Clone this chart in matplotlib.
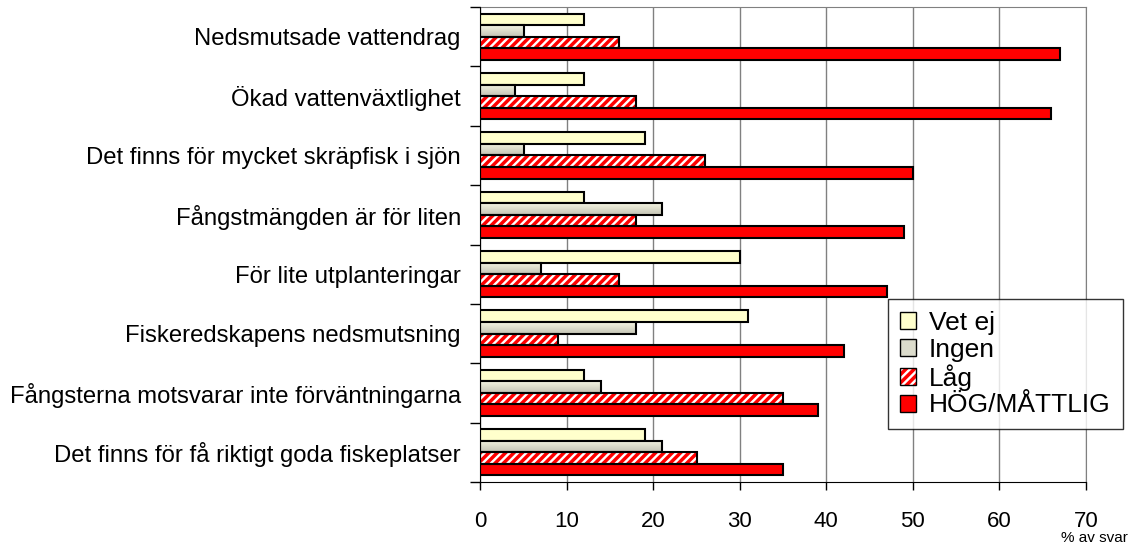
import matplotlib.pyplot as plt
import numpy as np
from matplotlib.patches import Rectangle
from matplotlib.legend_handler import HandlerTuple
from matplotlib.colors import LinearSegmentedColormap

plt.rcParams['font.family'] = ['Liberation Sans', 'DejaVu Sans']
plt.rcParams['hatch.linewidth'] = 2.5

categories = ['Nedsmutsade vattendrag', 'Ökad vattenväxtlighet',
              'Det finns för mycket skräpfisk i sjön', 'Fångstmängden är för liten',
              'För lite utplanteringar', 'Fiskeredskapens nedsmutsning',
              'Fångsterna motsvarar inte förväntningarna',
              'Det finns för få riktigt goda fiskeplatser']
vet_ej = [12, 12, 19, 12, 30, 31, 12, 19]
ingen = [5, 4, 5, 21, 7, 18, 14, 21]
lag = [16, 18, 26, 18, 16, 9, 35, 25]
hog = [67, 66, 50, 49, 47, 42, 39, 35]
series_names = ['Vet ej', 'Ingen', 'Låg', 'HÖG/MÅTTLIG']
x_ticks = [0, 10, 20, 30, 40, 50, 60, 70]

fig = plt.figure(figsize=(11.3, 5.47), dpi=100)
ax = fig.add_axes([0.425, 0.119, 0.536, 0.868])

n = len(categories)
y = np.arange(n)[::-1].astype(float)  # top category at top
h = 0.195
offs = [1.5 * h, 0.5 * h, -0.5 * h, -1.5 * h]

# Vet ej
ax.barh(y + offs[0], vet_ej, height=h, color='#ffffcc', edgecolor='black', linewidth=1.5, zorder=3)

# Ingen - gradient fill
grad = np.linspace(0, 1, 50).reshape(-1, 1)
cm = LinearSegmentedColormap.from_list('g', ['#f4f4e2', '#c4c4b4'])
bars_ingen = ax.barh(y + offs[1], ingen, height=h, color='none', edgecolor='black', linewidth=1.5, zorder=4)
for b in bars_ingen:
    x0, y0 = b.get_x(), b.get_y()
    im = ax.imshow(grad, cmap=cm, aspect='auto', origin='upper',
                   extent=[x0, x0 + b.get_width(), y0, y0 + b.get_height()], zorder=3)
    im.set_clip_path(b)

# Låg - red hatch on white
ax.barh(y + offs[2], lag, height=h, color='white', edgecolor='#ff0000', hatch='////', linewidth=0, zorder=3)
ax.barh(y + offs[2], lag, height=h, color='none', edgecolor='black', linewidth=1.5, zorder=4)

# HÖG/MÅTTLIG
ax.barh(y + offs[3], hog, height=h, color='#ff0000', edgecolor='black', linewidth=1.5, zorder=3)

ax.set_xlim(0, 70)
ax.set_ylim(-0.5, n - 0.5)
ax.set_xticks(x_ticks)
ax.tick_params(axis='x', labelsize=16, length=6, width=1, pad=15, direction='out')
ax.set_yticks(y)
ax.set_yticklabels(categories, fontsize=17.2)
ax.set_yticks(np.arange(n + 1) - 0.5, minor=True)
ax.tick_params(axis='y', which='major', length=0, pad=14)
ax.tick_params(axis='y', which='minor', length=7, width=1)
ax.grid(axis='x', color='#808080', linewidth=1, zorder=0)
for s in ['top', 'right']:
    ax.spines[s].set_color('#808080')
for s in ['left', 'bottom']:
    ax.spines[s].set_color('black')
ax.spines['left'].set_zorder(5)

fig.text(0.998, 0.003, '% av svar', fontsize=11, ha='right', va='bottom')

# legend
p1 = Rectangle((0, 0), 1, 1, facecolor='#ffffcc', edgecolor='black', linewidth=1)
p2 = Rectangle((0, 0), 1, 1, facecolor='#dcdccc', edgecolor='black', linewidth=1)
p3a = Rectangle((0, 0), 1, 1, facecolor='white', edgecolor='#ff0000', hatch='////', linewidth=0)
p3b = Rectangle((0, 0), 1, 1, facecolor='none', edgecolor='black', linewidth=1)
p4 = Rectangle((0, 0), 1, 1, facecolor='#ff0000', edgecolor='black', linewidth=1)
leg = fig.legend([p1, p2, (p3a, p3b), p4], series_names,
                 handler_map={tuple: HandlerTuple(ndivide=1)},
                 loc='upper left', bbox_to_anchor=(888 / 1130, 1 - 299 / 547),
                 fontsize=19, frameon=True, fancybox=False, edgecolor='black',
                 handlelength=0.6, handleheight=0.6, handletextpad=0.5,
                 labelspacing=0.1, borderpad=0.45, borderaxespad=0)
leg.get_frame().set_linewidth(1)

fig.savefig('out.png', dpi=100)
